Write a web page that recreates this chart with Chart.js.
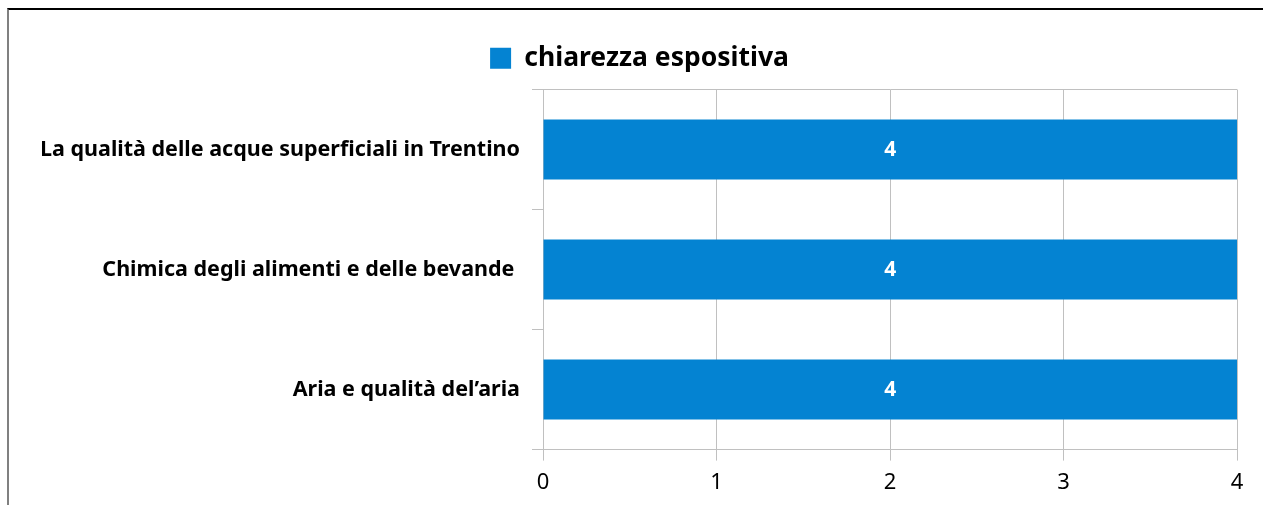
<!DOCTYPE html>
<html lang="it">
<head>
  <meta charset="UTF-8">
  <title>chiarezza espositiva</title>
  <script src="https://cdn.jsdelivr.net/npm/chart.js"></script>
  <style>
    * { box-sizing: border-box; }
    body { margin: 0; background: #fff; }
    .frame {
      position: absolute;
      left: 7px;
      top: 8px;
      width: 1256px;
      height: 497px;
      border-top: 2px solid #000;
      border-left: 2px solid #808080;
    }
    .wrap { position: absolute; left: 0; top: 0; width: 1263px; height: 505px; }
  </style>
</head>
<body>
  <div class="frame"></div>
  <div class="wrap"><canvas id="grafico"></canvas></div>

  <script>
    const categorie = [
      'La qualità delle acque superficiali in Trentino',
      'Chimica degli alimenti e delle bevande ',
      'Aria e qualità del\u2019aria'
    ];
    const valori = [4, 4, 4];
    const nomeSerie = 'chiarezza espositiva';
    const tickX = [0, 1, 2, 3, 4];

    const font = "'Noto Sans', sans-serif";
    const grigio = '#c0c0c0';

    // etichette bianche dentro le barre
    const etichette = {
      id: 'etichette',
      afterDatasetsDraw(chart) {
        const ctx = chart.ctx;
        const meta = chart.getDatasetMeta(0);
        ctx.save();
        ctx.fillStyle = '#fff';
        ctx.font = 'bold 21px ' + font;
        ctx.textAlign = 'center';
        ctx.textBaseline = 'middle';
        meta.data.forEach((bar, i) => {
          const cx = (bar.x + bar.base) / 2;
          ctx.fillText(String(valori[i]), cx, bar.y);
        });
        ctx.restore();
      }
    };

    // un po' di spazio in più sotto la legenda
    const spazioLegenda = {
      id: 'spazioLegenda',
      beforeInit(chart) {
        const fit = chart.legend.fit;
        chart.legend.fit = function () {
          fit.bind(chart.legend)();
          this.height += 8;
        };
      }
    };

    new Chart(document.getElementById('grafico'), {
      type: 'bar',
      data: {
        labels: categorie,
        datasets: [{
          label: nomeSerie,
          data: valori,
          backgroundColor: '#0483d2',
          barPercentage: 0.5,
          categoryPercentage: 1
        }]
      },
      options: {
        indexAxis: 'y',
        responsive: true,
        maintainAspectRatio: false,
        animation: false,
        layout: { padding: { left: 42, right: 26, top: 21, bottom: 0 } },
        plugins: {
          tooltip: { enabled: false },
          legend: {
            display: true,
            position: 'top',
            labels: {
              color: '#000',
              font: { family: font, size: 26.5, weight: 'bold' },
              boxWidth: 21,
              boxHeight: 21,
              padding: 24
            }
          }
        },
        scales: {
          x: {
            min: 0,
            max: 4,
            afterBuildTicks(scale) { scale.ticks = tickX.map(v => ({ value: v })); },
            grid: { color: grigio, tickLength: 11, lineWidth: 1 },
            border: { color: grigio },
            ticks: {
              color: '#000',
              font: { family: font, size: 22 },
              padding: 9
            }
          },
          y: {
            afterFit(scale) { scale.width = 501; },
            grid: {
              offset: true,
              tickLength: 11,
              tickColor: grigio,
              color: (c) => (c.index === 0 || c.index === undefined) ? grigio : 'rgba(0,0,0,0)'
            },
            border: { color: grigio },
            ticks: {
              color: '#000',
              font: { family: font, size: 21.5, weight: 'bold' },
              padding: 12
            }
          }
        }
      },
      plugins: [etichette, spazioLegenda]
    });
  </script>
</body>
</html>
